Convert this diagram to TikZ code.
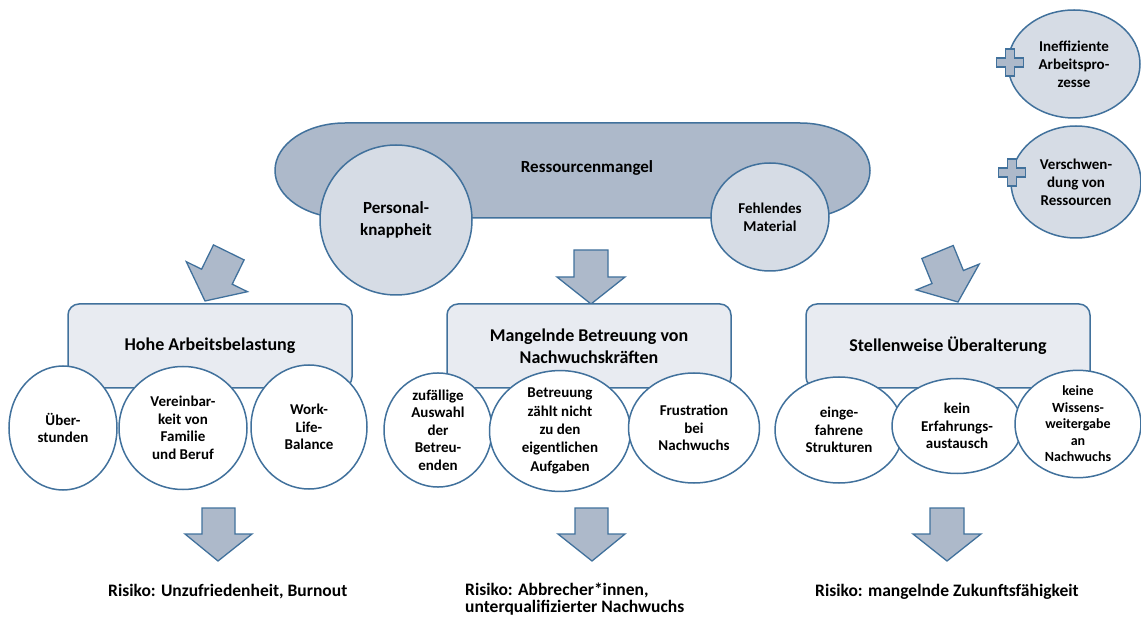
\documentclass[tikz,border=0pt]{standalone}
\usepackage{fontspec}
\setmainfont{Carlito}
\usetikzlibrary{shapes.geometric}
\definecolor{bord}{RGB}{65,113,156}
\definecolor{darkfill}{RGB}{173,185,202}
\definecolor{lightfill}{RGB}{214,220,229}
\definecolor{boxfill}{RGB}{232,235,241}
\begin{document}
\begin{tikzpicture}[x=1pt,y=-1pt,
  outl/.style={draw=bord, line width=1.5pt},
  bub/.style={ellipse, outl, fill=white, inner sep=0pt, align=center,
    font=\fontsize{15}{17.5}\selectfont\bfseries},
  lightbub/.style={ellipse, outl, fill=lightfill, inner sep=0pt, align=center,
    font=\fontsize{15}{18}\selectfont\bfseries},
  catbox/.style={rectangle, rounded corners=11pt, outl, fill=boxfill, inner sep=0pt,
    minimum width=284pt, minimum height=84pt, align=center,
    font=\fontsize{18}{22}\selectfont\bfseries},
  blockarr/.style={draw=bord, fill=darkfill, line width=1.3pt, line join=miter},
  plusshape/.style={draw=bord, fill=darkfill, line width=1.2pt},
  risk/.style={anchor=base west, inner sep=0pt, align=left,
    font=\fontsize{17.5}{19.5}\selectfont\bfseries}
]
\useasboundingbox (0,0) rectangle (1141,617);

% main resource shape
\draw[outl, fill=darkfill] (345,123) -- (800,123)
  arc[start angle=-90, end angle=90, x radius=70, y radius=47.5]
  -- (345,218)
  arc[start angle=90, end angle=270, x radius=70, y radius=47.5] -- cycle;
\node[font=\fontsize{17}{20}\selectfont\bfseries] (res) at (587,168) {Ressourcenmangel};
\node[lightbub, minimum width=152pt, minimum height=150pt,
  font=\fontsize{17}{22}\selectfont\bfseries] (pers) at (396,220) {Personal-\\knappheit};
\node[lightbub, minimum width=118pt, minimum height=108pt] (mat) at (770,217) {Fehlendes\\Material};

% top right
\node[lightbub, minimum width=132pt, minimum height=108pt] (ineff) at (1074,64) {Ineffiziente\\Arbeitspro-\\zesse};
\node[lightbub, minimum width=130pt, minimum height=112pt] (versch) at (1076,182) {Verschwen-\\dung von\\Ressourcen};
\draw[plusshape] (1005.5,49) -- (1014.5,49) -- (1014.5,58) -- (1023.5,58) -- (1023.5,67) -- (1014.5,67)
  -- (1014.5,76) -- (1005.5,76) -- (1005.5,67) -- (996.5,67) -- (996.5,58) -- (1005.5,58) -- cycle;
\draw[plusshape] (1007.5,159) -- (1016.5,159) -- (1016.5,168) -- (1025.5,168) -- (1025.5,177) -- (1016.5,177)
  -- (1016.5,186) -- (1007.5,186) -- (1007.5,177) -- (998.5,177) -- (998.5,168) -- (1007.5,168) -- cycle;

% top arrows
\draw[blockarr] (205,301) -- (247.5,291.7) -- (232.2,284.2) -- (244.1,259.9) -- (213.5,244.9)
  -- (201.6,269.2) -- (186.3,261.7) -- cycle;
\draw[blockarr] (591,304) -- (625,277) -- (608,277) -- (608,250) -- (574,250) -- (574,277) -- (557,277) -- cycle;
\draw[blockarr] (958,302) -- (979.2,264.1) -- (963.4,270.5) -- (953.2,245.5) -- (921.8,258.5)
  -- (932,283.5) -- (916.2,289.9) -- cycle;

% category boxes
\node[catbox] (hohe) at (210,346) {Hohe Arbeitsbelastung};
\node[catbox] (mangel) at (589,346) {Mangelnde Betreuung von\\Nachwuchskräften};
\node[catbox] (stell) at (948,346) {Stellenweise Überalterung};

% left group
\node[bub, minimum width=108pt, minimum height=124pt] (ueber) at (63,428) {Über-\\stunden};
\node[bub, minimum width=128pt, minimum height=123pt] (verein) at (183,428) {Vereinbar-\\keit von\\Familie\\und Beruf};
\node[bub, minimum width=116pt, minimum height=124pt] (work) at (309,427) {Work-\\Life-\\Balance};

% middle group
\node[bub, minimum width=108pt, minimum height=114pt] (zuf) at (438,430) {zufällige\\Auswahl\\der\\Betreu-\\enden};
\node[bub, minimum width=141pt, minimum height=108pt,
  font=\fontsize{15}{18.3}\selectfont\bfseries] (betr) at (560,431) {Betreuung\\zählt nicht\\zu den\\eigentlichen\\Aufgaben};
\node[bub, minimum width=131pt, minimum height=110pt] (frust) at (694,428) {Frustration\\bei\\Nachwuchs};

% right group
\node[bub, minimum width=128pt, minimum height=106pt] (einge) at (839,430) {einge-\\fahrene\\Strukturen};
\node[bub, minimum width=130pt, minimum height=95pt] (kein) at (957,426) {kein\\Erfahrungs-\\austausch};
\node[bub, minimum width=126pt, minimum height=97pt,
  font=\fontsize{14}{16.5}\selectfont\bfseries] (keine) at (1078,424) {keine\\Wissens-\\weitergabe\\an\\Nachwuchs};

% bottom arrows
\draw[blockarr] (218,561) -- (252,534) -- (235,534) -- (235,508) -- (202,508) -- (202,534) -- (185,534) -- cycle;
\draw[blockarr] (592,561) -- (625,534) -- (608,534) -- (608,508) -- (575,508) -- (575,534) -- (558,534) -- cycle;
\draw[blockarr] (947,561) -- (981,534) -- (964,534) -- (964,508) -- (930,508) -- (930,534) -- (913,534) -- cycle;

% risks
\node[risk] (r1) at (108,596) {Risiko: Unzufriedenheit, Burnout};
\node[risk] (r2a) at (465,595) {Risiko: Abbrecher*innen,};
\node[risk] (r2b) at (465,612) {unterqualifizierter Nachwuchs};
\node[risk] (r3) at (815,596) {Risiko: mangelnde Zukunftsfähigkeit};
\end{tikzpicture}
\end{document}
